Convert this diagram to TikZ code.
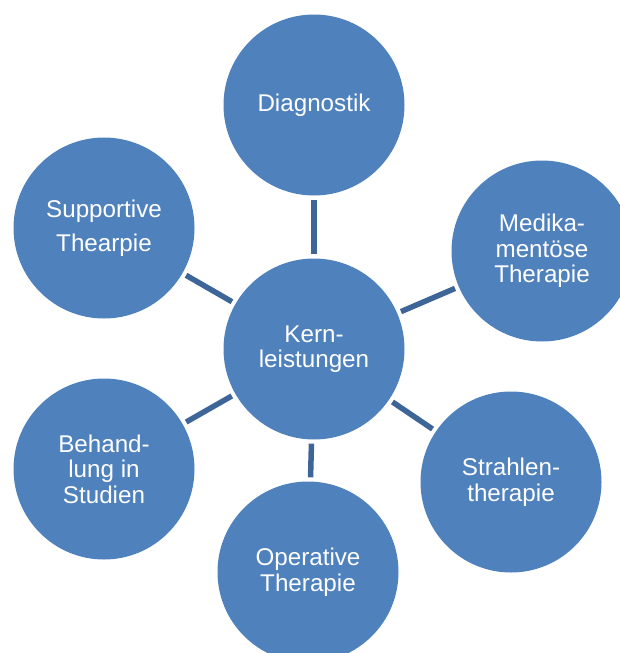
\documentclass[tikz,border=0pt]{standalone}
\usepackage{fontspec}
\setmainfont{Liberation Sans}
\definecolor{circblue}{HTML}{4F81BD}
\definecolor{linkblue}{HTML}{3E6598}
\begin{document}
\begin{tikzpicture}[x=1pt,y=-1pt,
  topic/.style={circle,fill=circblue,draw=none,minimum size=181pt,inner sep=0pt,
    text=white,align=center,font=\fontsize{24.2}{25.5}\selectfont},
  link/.style={draw=linkblue,line width=5.5pt,shorten <=4pt,shorten >=4pt}]
\useasboundingbox (0,0) rectangle (620,653);
\clip (0,0) rectangle (620,653);
\node[topic] (k) at (314,349) {Kern-\\leistungen};
\node[topic] (d) at (314,105) {Diagnostik};
\node[topic] (m) at (542,251) {Medika-\\mentöse\\Therapie};
\node[topic] (s) at (511,482) {Strahlen-\\therapie};
\node[topic] (o) at (308,572) {Operative\\Therapie};
\node[topic] (b) at (104,469) {Behand-\\lung in\\Studien};
\node[topic] (p) at (104,228) {Supportive\\[8pt]Thearpie};
\draw[link] (k) -- (d);
\draw[link] (k) -- (m);
\draw[link] (k) -- (s);
\draw[link] (k) -- (o);
\draw[link] (k) -- (b);
\draw[link] (k) -- (p);
\end{tikzpicture}
\end{document}
